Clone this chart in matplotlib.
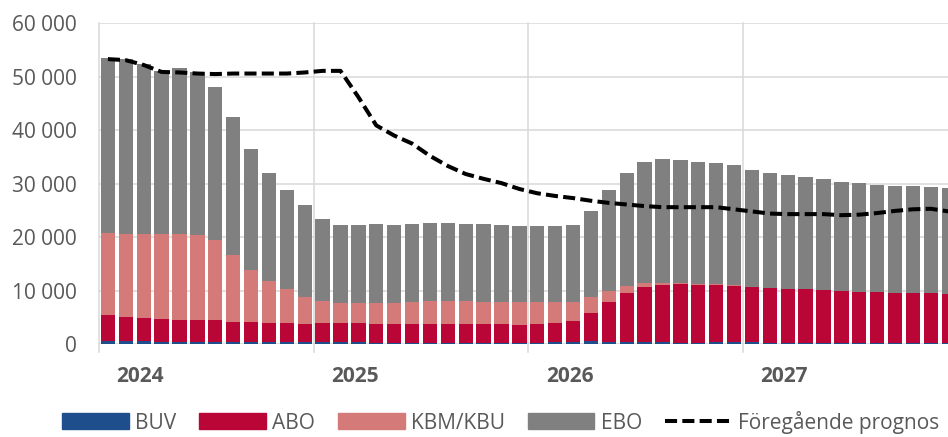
import numpy as np
import matplotlib.pyplot as plt
from matplotlib.ticker import FuncFormatter
from matplotlib.lines import Line2D
from matplotlib.patches import Patch

plt.rcParams['font.family'] = ['Open Sans', 'DejaVu Sans']

years = ['2024', '2025', '2026', '2027']

# monthly values, thousands (jan 2024 - dec 2027)
buv = [0.55, 0.55, 0.5, 0.45, 0.45, 0.45, 0.45, 0.4, 0.4, 0.35, 0.35, 0.35,
       0.3, 0.3, 0.3, 0.25, 0.25, 0.25, 0.25, 0.25, 0.25, 0.25, 0.2, 0.2,
       0.25, 0.3, 0.45, 0.5, 0.45, 0.4, 0.35, 0.3, 0.25, 0.25, 0.3, 0.3,
       0.3, 0.2, 0.2, 0.2, 0.2, 0.2, 0.2, 0.2, 0.2, 0.2, 0.2, 0.2]
abo = [4.95, 4.55, 4.4, 4.25, 3.95, 3.95, 3.95, 3.8, 3.8, 3.65, 3.65, 3.45,
       3.6, 3.7, 3.6, 3.55, 3.45, 3.45, 3.45, 3.45, 3.45, 3.45, 3.5, 3.4,
       3.45, 3.6, 3.85, 5.3, 7.45, 9.1, 10.25, 10.8, 10.95, 10.75, 10.8, 10.6,
       10.4, 10.2, 10.1, 10.0, 9.9, 9.7, 9.6, 9.6, 9.4, 9.4, 9.3, 9.2]
kbm = [15.2, 15.5, 15.6, 15.8, 16.1, 16.0, 15.0, 12.4, 9.6, 7.7, 6.2, 5.0,
       4.1, 3.7, 3.8, 3.9, 4.0, 4.2, 4.3, 4.4, 4.3, 4.2, 4.2, 4.2,
       4.2, 4.0, 3.6, 3.0, 2.1, 1.4, 0.9, 0.4, 0.25, 0.2, 0.15, 0.1,
       0.05, 0.05, 0.05, 0.0, 0.0, 0.0, 0.0, 0.0, 0.0, 0.0, 0.0, 0.0]
ebo = [32.9, 32.7, 31.8, 30.6, 31.1, 30.4, 28.6, 25.8, 22.6, 20.3, 18.7, 17.2,
       15.3, 14.5, 14.5, 14.7, 14.5, 14.6, 14.7, 14.6, 14.5, 14.5, 14.4, 14.3,
       14.2, 14.2, 14.4, 16.0, 18.9, 21.0, 22.5, 23.1, 22.95, 22.9, 22.55, 22.4,
       21.85, 21.45, 21.25, 21.0, 20.7, 20.5, 20.3, 20.0, 20.0, 19.9, 19.9, 19.8]
prev = [53.3, 53.1, 52.2, 50.9, 50.8, 50.6, 50.5, 50.6, 50.6, 50.6, 50.6, 50.8,
        51.1, 51.1, 46.2, 40.9, 39.0, 37.5, 35.2, 33.3, 31.8, 30.9, 30.1, 29.0,
        28.2, 27.7, 27.3, 26.8, 26.4, 26.1, 25.8, 25.6, 25.6, 25.6, 25.6, 25.2,
        24.8, 24.4, 24.3, 24.3, 24.3, 24.1, 24.2, 24.5, 24.9, 25.2, 25.3, 24.8]

names = ['BUV', 'ABO', 'KBM/KBU', 'EBO']
colors = ['#1f4e8c', '#b90636', '#d47b7a', '#808080']
grey_txt = '#595959'
grid_col = '#d9d9d9'

fig = plt.figure(figsize=(9.48, 4.37), dpi=100)
ax = fig.add_axes([0.1044, 0.2128, 0.9058, 0.7339])

x = np.arange(len(buv))
bottom = np.zeros(len(buv))
for vals, c in zip([buv, abo, kbm, ebo], colors):
    v = np.array(vals) * 1000
    ax.bar(x, v, 0.8, bottom=bottom, color=c, zorder=2)
    bottom += v

ax.plot(x, np.array(prev) * 1000, color='black', lw=2.9, dashes=(3, 1.3), zorder=3)

ax.set_xlim(-0.5, len(buv) - 0.5)
ax.set_ylim(0, 60000)
for s in ax.spines.values():
    s.set_visible(False)
ax.set_yticks(range(0, 60001, 10000))
ax.yaxis.set_major_formatter(FuncFormatter(lambda v, p: f'{int(v):,}'.replace(',', ' ')))
ax.tick_params(axis='y', length=0, pad=16, labelsize=15, labelcolor=grey_txt)
ax.set_xticks([])
ax.grid(axis='y', color=grid_col, lw=1.1, zorder=0)
ax.set_axisbelow(True)
for xb in [-0.5, 11.5, 23.5, 35.5]:
    ax.axvline(xb, ymin=-0.025, ymax=1, color=grid_col, lw=1.1, zorder=0, clip_on=False)

for i, yr in enumerate(years):
    ax.text(i * 12 - 0.5 + 2.3, -0.1, yr, transform=ax.get_xaxis_transform(),
            ha='center', va='center', fontsize=15, fontweight='bold', color=grey_txt)

handles = [Patch(color=c) for c in colors]
handles.append(Line2D([0], [0], color='black', lw=2.9, dashes=(3, 1.3)))
fig.legend(handles, names + ['Föregående prognos'], loc='center',
           bbox_to_anchor=(0.528, 0.034), ncol=5, frameon=False, fontsize=15,
           handlelength=3.2, handleheight=0.8, handletextpad=0.3,
           columnspacing=1.1, labelcolor=grey_txt)

fig.savefig('out.png', dpi=100)
